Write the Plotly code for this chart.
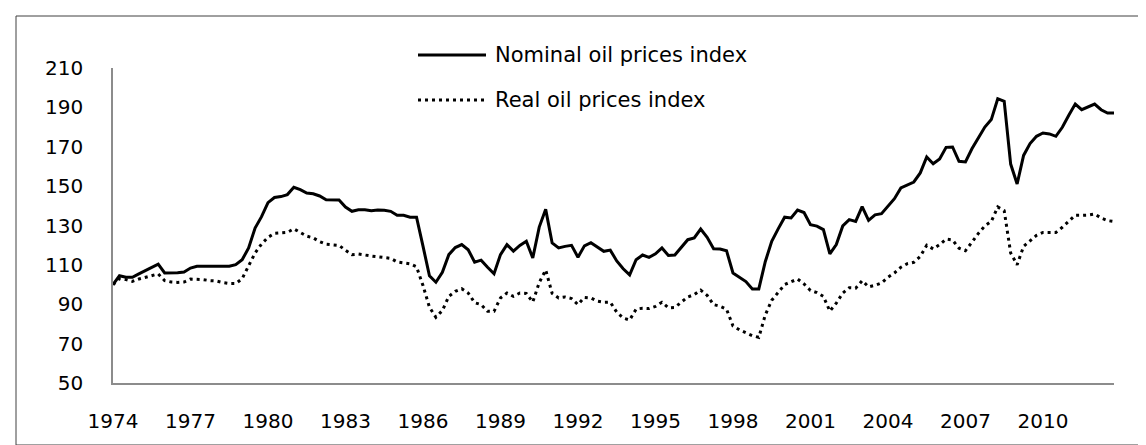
import plotly.graph_objects as go

# Quarterly index values, 1974Q1 .. 2012Q4 (156 quarters)
nominal = [
    100.0, 104.5, 103.7, 103.7, 105.4, 107.1, 108.8, 110.4, 105.9, 105.9,
    106.0, 106.4, 108.4, 109.3, 109.3, 109.6, 109.3, 109.3, 109.3, 110.1,
    112.6, 118.6, 128.7, 134.5, 141.6, 144.2, 144.7, 145.7, 149.4, 148.2,
    146.5, 146.1, 145.0, 143.1, 143.1, 143.0, 139.4, 137.2, 138.0, 138.0,
    137.5, 137.9, 137.7, 137.2, 135.2, 135.2, 134.2, 134.2, 119.5, 104.5,
    101.2, 106.2, 115.2, 118.8, 120.3, 117.7, 111.4, 112.4, 108.8, 105.5,
    115.2, 120.3, 117.0, 119.9, 122.0, 113.5, 129.2, 138.2, 121.1, 118.6,
    119.4, 119.9, 113.9, 119.7, 121.3, 118.9, 116.9, 117.5, 112.0, 108.0,
    104.9, 112.6, 115.0, 113.8, 115.6, 118.6, 114.8, 115.0, 118.9, 122.8,
    123.7, 128.2, 124.0, 118.2, 118.1, 117.2, 105.9, 103.5, 101.5, 97.8,
    97.8, 111.6, 122.0, 128.3, 134.2, 133.8, 137.8, 136.6, 130.4, 129.7,
    127.9, 115.6, 120.3, 129.8, 133.0, 132.1, 139.6, 132.6, 135.4, 136.0,
    140.1, 143.6, 149.1, 150.4, 152.1, 156.7, 164.8, 161.4, 163.8, 169.7,
    169.9, 162.6, 162.3, 169.0, 174.8, 180.0, 183.8, 194.4, 193.1, 161.2,
    151.1, 165.6, 171.6, 175.3, 177.0, 176.5, 175.3, 179.9, 186.0, 191.7,
    188.8, 190.3, 191.7, 188.8, 187.1, 187.1,
]

real = [
    100.0, 103.0, 102.5, 101.6, 102.8, 103.7, 104.5, 105.4, 102.0, 101.3,
    101.1, 101.3, 102.8, 102.8, 102.5, 102.0, 101.8, 101.0, 100.5, 100.5,
    103.0, 109.5, 116.0, 120.6, 124.0, 126.0, 126.2, 126.5, 128.3, 126.5,
    124.6, 123.7, 121.8, 120.5, 120.1, 119.9, 117.4, 115.2, 115.5, 114.9,
    114.5, 114.1, 113.7, 113.3, 111.5, 111.0, 110.5, 109.0, 99.5, 88.5,
    83.4, 86.8, 94.0, 96.6, 97.9, 95.7, 90.8, 89.8, 86.4, 86.4,
    93.2, 95.7, 94.0, 95.7, 95.5, 91.1, 101.0, 107.4, 95.5, 93.2,
    93.7, 92.9, 89.8, 93.5, 93.2, 91.6, 91.0, 91.1, 86.0, 83.0,
    82.0, 87.5, 88.0, 87.8, 88.9, 91.0, 88.2, 88.4, 91.1, 93.7,
    94.9, 97.2, 94.5, 89.8, 89.0, 87.5, 79.0, 77.0, 75.5, 74.0,
    73.2, 84.5, 92.0, 96.0, 100.0, 101.4, 102.8, 100.3, 97.0, 95.9,
    94.0, 86.5, 90.6, 95.7, 98.4, 98.2, 102.0, 98.8, 99.6, 100.8,
    103.7, 105.9, 108.8, 110.6, 111.3, 114.3, 120.0, 118.1, 120.3, 123.1,
    122.6, 118.5, 117.2, 121.5, 126.0, 129.8, 132.1, 139.4, 137.5, 116.0,
    110.1, 119.4, 122.3, 125.0, 126.5, 126.5, 126.5, 129.1, 132.1, 135.2,
    135.2, 135.3, 135.8, 133.8, 132.5, 132.0,
]

year_labels = ["1974", "1977", "1980", "1983", "1986", "1989", "1992",
               "1995", "1998", "2001", "2004", "2007", "2010"]
quarters_per_label = 12

series_names = ["Nominal oil prices index", "Real oil prices index"]

x = list(range(len(nominal)))

W, H = 1146, 445
L, R, T, B = 105, 40, 60, 70
PW, PH = W - L - R, H - T - B


def px_x(p):
    return (p - L) / PW


def px_y(p):
    return (H - B - p) / PH


FONT = "DejaVu Sans"
TICK_SIZE = 20
LEG_SIZE = 21

fig = go.Figure()
fig.add_trace(go.Scatter(x=x, y=nominal, mode="lines", name=series_names[0],
                         line=dict(color="black", width=3), showlegend=False))
fig.add_trace(go.Scatter(x=x, y=real, mode="lines", name=series_names[1],
                         line=dict(color="black", width=3, dash="3px,4px"),
                         showlegend=False))

# custom legend + chart border
shapes = [
    dict(type="line", xref="paper", yref="paper",
         x0=px_x(410), x1=px_x(478), y0=px_y(47), y1=px_y(47),
         line=dict(color="black", width=3)),
    dict(type="line", xref="paper", yref="paper",
         x0=px_x(410), x1=px_x(478), y0=px_y(92), y1=px_y(92),
         line=dict(color="black", width=3, dash="3px,4px")),
    dict(type="rect", xref="paper", yref="paper",
         x0=px_x(8), x1=px_x(1138), y0=px_y(437), y1=px_y(8),
         line=dict(color="#404040", width=1), layer="below"),
]
annotations = [
    dict(xref="paper", yref="paper", x=px_x(485), y=px_y(47), text=series_names[0],
         showarrow=False, xanchor="left", yanchor="middle",
         font=dict(family=FONT, size=LEG_SIZE, color="black")),
    dict(xref="paper", yref="paper", x=px_x(485), y=px_y(92), text=series_names[1],
         showarrow=False, xanchor="left", yanchor="middle",
         font=dict(family=FONT, size=LEG_SIZE, color="black")),
]

fig.update_layout(
    width=W, height=H,
    margin=dict(l=L, r=R, t=T, b=B, pad=0),
    paper_bgcolor="white", plot_bgcolor="white",
    font=dict(family=FONT, size=TICK_SIZE, color="black"),
    shapes=shapes, annotations=annotations,
    showlegend=False,
)
fig.update_xaxes(
    range=[0, len(nominal) - 1],
    tickmode="array",
    tickvals=[i * quarters_per_label for i in range(len(year_labels))],
    ticktext=year_labels,
    showgrid=False, zeroline=False,
    showline=True, linecolor="#8c8c8c", linewidth=1.5,
    ticks="outside", ticklen=19, tickcolor="rgba(0,0,0,0)",
    tickfont=dict(family=FONT, size=TICK_SIZE, color="black"),
)
fig.update_yaxes(
    range=[50, 210], tickmode="linear", tick0=50, dtick=20,
    showgrid=False, zeroline=False,
    showline=True, linecolor="#8c8c8c", linewidth=1.5,
    ticks="outside", ticklen=24, tickcolor="rgba(0,0,0,0)",
    tickfont=dict(family=FONT, size=TICK_SIZE, color="black"),
)

fig.write_html("out.html")
